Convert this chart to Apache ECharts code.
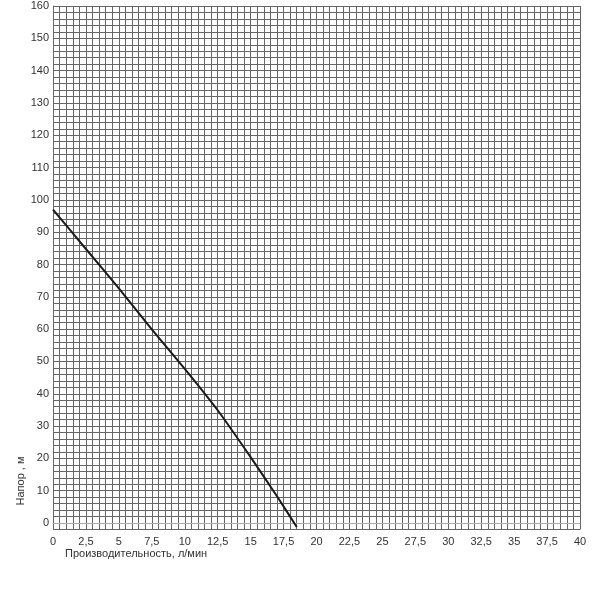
<!DOCTYPE html>
<html>
<head>
<meta charset="utf-8">
<title>Напорная характеристика</title>
<script src="https://cdn.jsdelivr.net/npm/echarts@6/dist/echarts.min.js"></script>
<style>
html, body { margin: 0; padding: 0; background: #fff; }
#chart { width: 600px; height: 600px; }
</style>
</head>
<body>
<div id="chart"></div>
<script>
// производительность, л/мин
var flow = [0, 2.5, 5, 7.5, 10, 12.5, 15, 17, 18.5];
// напор, м
var head = [97, 84.8, 72.6, 59.9, 47.7, 34.9, 20.4, 8.3, -1.2];

var xTitle = 'Производительность, л/мин';
var yTitle = 'Напор , м';

var points = [];
for (var i = 0; i < flow.length; i++) {
    points.push([flow[i], head[i]]);
}

var gridColor = '#666';
var labelStyle = { color: '#333', fontSize: 11, fontFamily: 'Liberation Sans, Arial, sans-serif' };

var myChart = echarts.init(document.getElementById('chart'));

var option = {
    animation: false,
    grid: { left: 53, right: 20, top: 6, bottom: 70.5 },
    xAxis: {
        type: 'value',
        min: 0,
        max: 40,
        interval: 0.5,
        axisLine: { show: true, lineStyle: { color: '#aaa', width: 1 } },
        axisTick: { show: false },
        splitLine: { show: true, lineStyle: { color: gridColor, width: 1 } },
        axisLabel: {
            color: labelStyle.color,
            fontSize: labelStyle.fontSize,
            fontFamily: labelStyle.fontFamily,
            margin: 7,
            formatter: function (v) {
                // подписи только через 2,5
                if (Math.abs(v % 2.5) > 1e-6) return '';
                return String(v).replace('.', ',');
            }
        }
    },
    yAxis: {
        type: 'value',
        min: -2,
        max: 160,
        interval: 2,
        axisLine: { show: true, lineStyle: { color: gridColor, width: 1 } },
        axisTick: { show: false },
        splitLine: { show: true, lineStyle: { color: gridColor, width: 1 } },
        axisLabel: {
            color: labelStyle.color,
            fontSize: labelStyle.fontSize,
            fontFamily: labelStyle.fontFamily,
            margin: 4,
            formatter: function (v) {
                if (v < 0 || v % 10 !== 0) return '';
                return String(v);
            }
        }
    },
    graphic: [{
        type: 'text',
        left: 65,
        top: 548,
        style: {
            text: xTitle,
            fill: '#333',
            font: '11px Liberation Sans, Arial, sans-serif'
        }
    }, {
        type: 'text',
        x: 21,
        y: 481,
        rotation: Math.PI / 2,
        style: {
            text: yTitle,
            fill: '#333',
            align: 'center',
            verticalAlign: 'middle',
            font: '11px Liberation Sans, Arial, sans-serif'
        }
    }],
    series: [{
        type: 'line',
        data: points,
        smooth: 0.2,
        showSymbol: false,
        lineStyle: { color: '#1a1a1a', width: 2 }
    }]
};

myChart.setOption(option);
</script>
</body>
</html>
